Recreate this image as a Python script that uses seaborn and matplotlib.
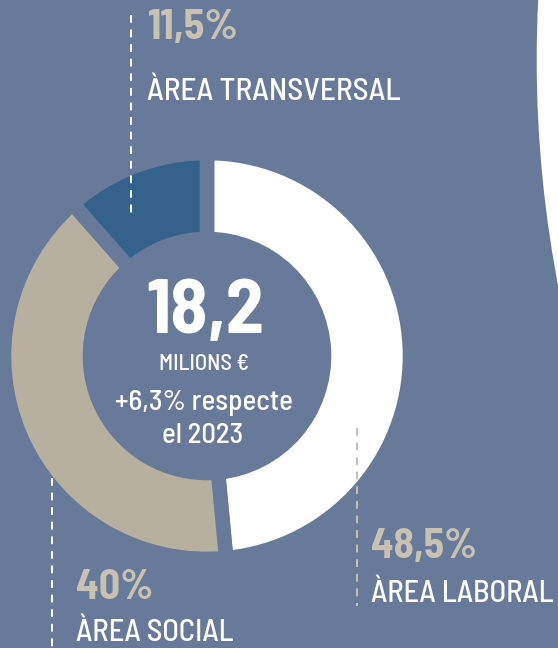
import matplotlib
matplotlib.use("Agg")
import matplotlib.pyplot as plt
from matplotlib import font_manager as fm
from matplotlib.patches import Circle
import seaborn as sns

# ---- data ----
categories = ["ÀREA LABORAL", "ÀREA SOCIAL", "ÀREA TRANSVERSAL"]
shares = [48.5, 40.0, 11.5]
share_labels = ["48,5%", "40%", "11,5%"]
total_value = "18,2"
total_unit = "MILIONS €"
note_lines = ["+6,3% respecte", "el 2023"]

# ---- style ----
BG = "#687a9a"
seg_colors = ["#ffffff", "#b8b09f", "#34628a"]
PCT = "#c9c1b1"
W, H = 558, 648

sns.set_theme(style="white")


def pick_font():
    entries = fm.fontManager.ttflist
    names = {f.name for f in entries}
    for fam in ["Barlow Semi Condensed", "Barlow Condensed", "Roboto Condensed",
                "Open Sans Condensed", "Liberation Sans Narrow",
                "Noto Sans Condensed", "DejaVu Sans Condensed"]:
        if fam in names:
            return fam, "normal"
    for fam in ["Noto Sans", "DejaVu Sans", "Open Sans", "Roboto"]:
        for f in entries:
            if f.name == fam and str(f.stretch) in ("condensed", "semi-condensed",
                                                    "extra-condensed"):
                return fam, "condensed"
    return "Roboto", "normal"


FAM, STRETCH = pick_font()
plt.rcParams["font.family"] = [FAM, "DejaVu Sans"]

fig = plt.figure(figsize=(W / 100, H / 100), dpi=100, facecolor=BG)
ax = fig.add_axes([0, 0, 1, 1])
ax.set_facecolor(BG)


def Y(y):
    return H - y


# decorative white shape on the right
ax.add_patch(Circle((536.7 + 1200, Y(60)), 1200, facecolor="white",
                    edgecolor="none", zorder=0))

cx, cy = 207, 356
ax.pie(shares, startangle=90, counterclock=False, colors=seg_colors,
       radius=203, center=(cx, Y(cy)),
       wedgeprops=dict(width=86, edgecolor=BG, linewidth=10.5))
ax.set_xlim(0, W)
ax.set_ylim(0, H)
ax.set_aspect("equal")

# dashed leader lines
ax.plot([131, 131], [Y(15), Y(215)], color="white", lw=1.4,
        dashes=(4, 3.5), zorder=5)
ax.plot([52, 52], [Y(478), Y(648)], color="white", lw=1.4,
        dashes=(4, 3.5), zorder=5)
ax.plot([357, 357], [Y(428), Y(606)], color=PCT, lw=1.4,
        dashes=(4, 3.5), zorder=5)

renderer = fig.canvas.get_renderer()


def fitted(x, y, s, width, color, weight="normal", ha="left"):
    """Place text at baseline y, sized to the reference width in px."""
    t = ax.text(x, Y(y), s, color=color, fontsize=20, fontweight=weight,
                fontfamily=[FAM, "DejaVu Sans"], fontstretch=STRETCH,
                ha=ha, va="baseline", zorder=6)
    w = t.get_window_extent(renderer).width
    t.set_fontsize(20 * width / w)
    return t


# labels (x, baseline, width in px)
fitted(147, 39, share_labels[2], 91, PCT, "bold")
fitted(147, 100, categories[2], 253, "white", "medium")
fitted(371, 558, share_labels[0], 106, PCT, "bold")
fitted(371, 602, categories[0], 182, "white", "medium")
fitted(76, 599, share_labels[1], 77, PCT, "bold")
fitted(76, 641, categories[1], 157, "white", "medium")

# centre text
fitted(cx - 2, 333, total_value, 118, "white", "bold", ha="center")
fitted(cx - 3, 370, total_unit, 90, "white", "medium", ha="center")
fitted(cx - 3, 410, note_lines[0], 178, "white", "medium", ha="center")
fitted(cx - 4, 443, note_lines[1], 81, "white", "medium", ha="center")

ax.axis("off")
fig.savefig("out.png", dpi=100, facecolor=BG)
